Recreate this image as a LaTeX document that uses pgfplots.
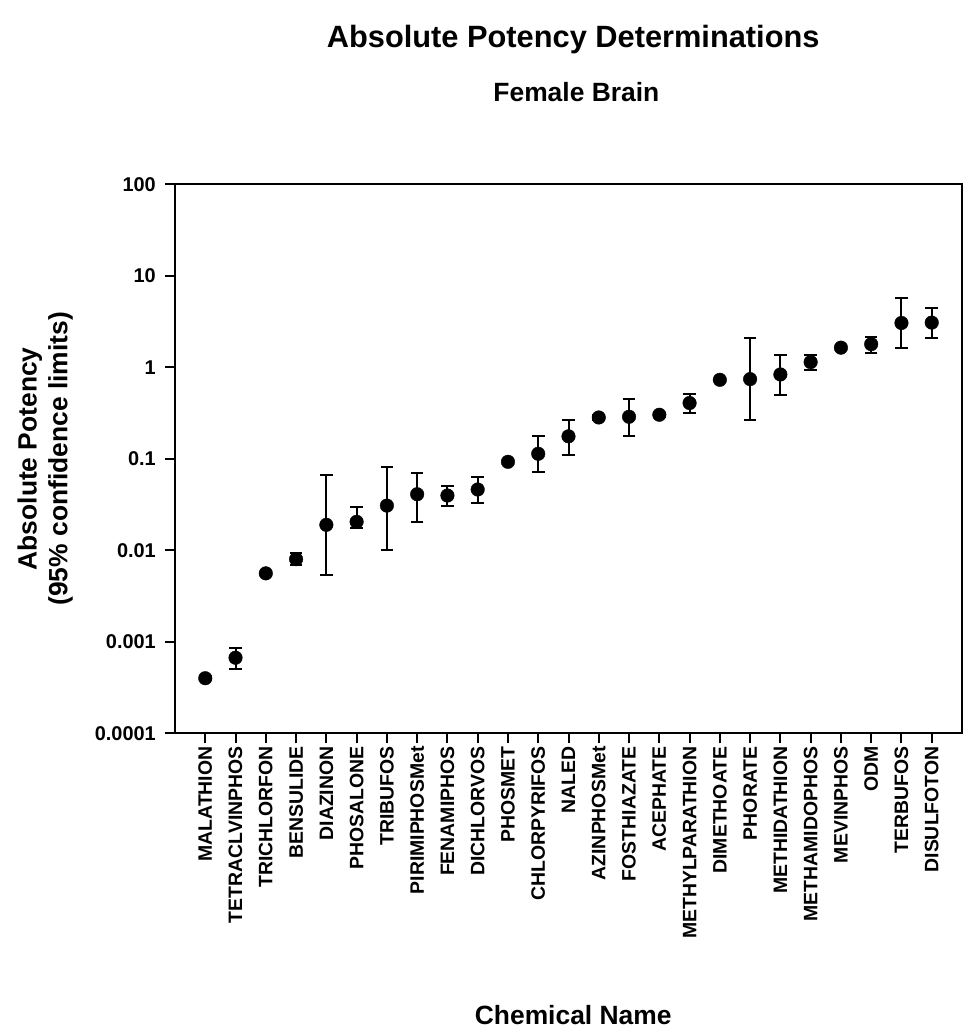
\documentclass[border=0pt]{standalone}
\usepackage{fontspec}
\setmainfont{Liberation Sans}
\usepackage{pgfplots}
\usepackage{pgfplotstable}
\pgfplotsset{compat=1.18}

% x, potency, upper error, lower error
\pgfplotstableread{
x  y        ep       em
1  0.00040  0.00002  0.00002
2  0.00067  0.00019  0.00016
3  0.0056   0.0003   0.0003
4  0.0080   0.0013   0.0011
5  0.019    0.048    0.0136
6  0.0205   0.0095   0.0030
7  0.0308   0.0502   0.0208
8  0.041    0.0296   0.0208
9  0.0397   0.0111   0.0089
10 0.0462   0.0171   0.0135
11 0.0927   0.0053   0.0057
12 0.1135   0.0625   0.0411
13 0.176    0.088    0.065
14 0.283    0.017    0.018
15 0.288    0.166    0.111
16 0.303    0.017    0.018
17 0.407    0.108    0.089
18 0.73     0.03     0.03
19 0.743    1.337    0.476
20 0.835    0.535    0.340
21 1.14     0.23     0.215
22 1.64     0.08     0.08
23 1.79     0.33     0.34
24 3.05     2.65     1.42
25 3.08     1.35     1.00
}\potency

\begin{document}
\begin{tikzpicture}
\useasboundingbox (-175bp,-295.7bp) rectangle (793bp,733.3bp);
\begin{axis}[
  scale only axis,
  width=787bp, height=549bp,
  xmin=0, xmax=26,
  ymode=log, ymin=0.0001, ymax=100,
  yminorticks=false,
  xtick={1,...,25},
  xticklabels={MALATHION,TETRACLVINPHOS,TRICHLORFON,BENSULIDE,DIAZINON,PHOSALONE,TRIBUFOS,PIRIMIPHOSMet,FENAMIPHOS,DICHLORVOS,PHOSMET,CHLORPYRIFOS,NALED,AZINPHOSMet,FOSTHIAZATE,ACEPHATE,METHYLPARATHION,DIMETHOATE,PHORATE,METHIDATHION,METHAMIDOPHOS,MEVINPHOS,ODM,TERBUFOS,DISULFOTON},
  ytick={0.0001,0.001,0.01,0.1,1,10,100},
  yticklabels={0.0001,0.001,0.01,0.1,1,10,100},
  xtick pos=bottom, ytick pos=left,
  tick align=outside,
  major tick length=10bp,
  every tick/.style={black, line width=2bp},
  axis line style={line width=2.2bp},
  xticklabel style={font=\fontsize{19.5}{19.5}\selectfont\bfseries,
    rotate=90, anchor=east, inner sep=3bp},
  yticklabel style={font=\fontsize{20}{20}\selectfont\bfseries,
    inner sep=0pt, inner xsep=9bp},
  title={Absolute Potency Determinations},
  title style={font=\fontsize{30.9}{34}\selectfont\bfseries,
    at={(axis description cs:0.506,1.238)}, anchor=base},
  xlabel={Chemical Name},
  xlabel style={font=\fontsize{26.5}{30}\selectfont\bfseries,
    at={(axis description cs:0.506,-0.5297)}, anchor=base},
  ylabel={Absolute Potency\\(95\% confidence limits)},
  ylabel style={font=\fontsize{26.5}{31}\selectfont\bfseries, align=center,
    at={(axis description cs:-0.165,0.5)}, anchor=center},
  extra description/.code={
    \node[font=\fontsize{26.5}{30}\selectfont\bfseries, anchor=base]
      at (axis description cs:0.51,1.151) {Female Brain};
  },
]
\addplot+[only marks, black, mark=*, mark size=6.8bp,
  mark options={black, fill=black},
  error bars/.cd, y dir=both, y explicit,
  error bar style={black, line width=2bp},
  error mark options={black, rotate=90, mark size=6.3bp, line width=2bp}]
  table[x=x, y=y, y error plus=ep, y error minus=em] {\potency};
\end{axis}
\end{tikzpicture}
\end{document}
